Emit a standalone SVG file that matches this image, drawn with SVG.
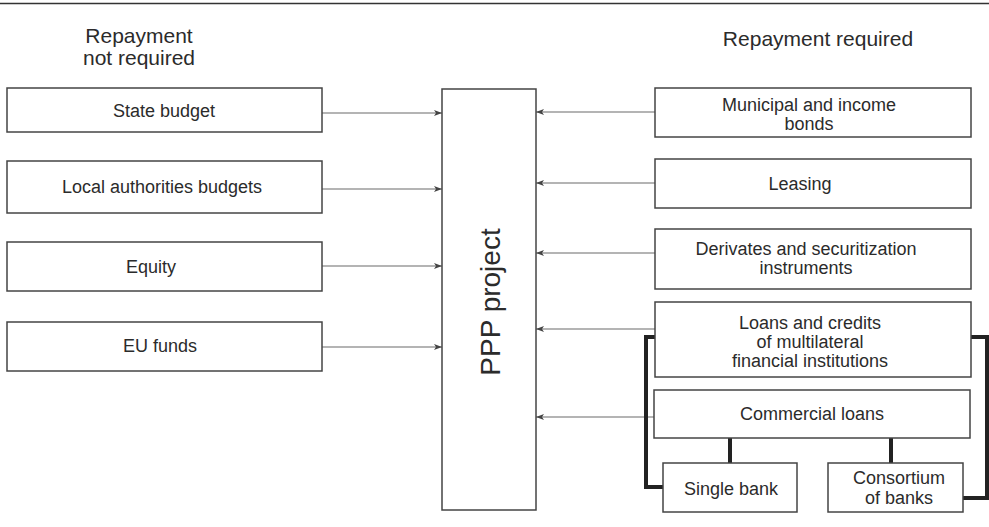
<svg xmlns="http://www.w3.org/2000/svg" width="989" height="527" viewBox="0 0 989 527">
<style>
  text { font-family: "Liberation Sans", Arial, sans-serif; fill: #2b2b2b; }
  .hdr { font-size: 21px; text-anchor: middle; }
  .lbl { font-size: 18px; text-anchor: middle; }
  .ppp { font-size: 28px; text-anchor: middle; }
  .box { fill: #ffffff; stroke: #444444; stroke-width: 1.5; }
  .arr { fill: none; stroke: #6a6a6a; stroke-width: 1.2; marker-end: url(#ah); }
  .thick { fill: none; stroke: #222222; stroke-width: 4; stroke-linejoin: miter; }
</style>
<defs>
  <marker id="ah" viewBox="0 0 8 6" refX="8" refY="3" markerWidth="8" markerHeight="6" markerUnits="userSpaceOnUse" orient="auto">
    <path d="M0,0 L8,3 L0,6 L2,3 z" fill="#444444"/>
  </marker>
</defs>
<rect width="989" height="527" fill="#ffffff"/>
<line x1="0" y1="3.5" x2="989" y2="3.5" stroke="#333333" stroke-width="1.6"/>
<g id="header-left">
  <text class="hdr" x="139" y="43">Repayment</text>
  <text class="hdr" x="139" y="65">not required</text>
</g>
<g id="header-right">
  <text class="hdr" x="818" y="46">Repayment required</text>
</g>
<g id="connectors">
  <line class="arr" x1="322" y1="113" x2="442" y2="113"/>
  <line class="arr" x1="322" y1="189" x2="442" y2="189"/>
  <line class="arr" x1="322" y1="266" x2="442" y2="266"/>
  <line class="arr" x1="322" y1="347" x2="442" y2="347"/>
  <line class="arr" x1="655" y1="112" x2="536" y2="112"/>
  <line class="arr" x1="655" y1="183" x2="536" y2="183"/>
  <line class="arr" x1="655" y1="253" x2="536" y2="253"/>
  <line class="arr" x1="655" y1="329" x2="536" y2="329"/>
  <line class="arr" x1="654" y1="417" x2="536" y2="417"/>
  <path class="thick" d="M655,337 H646 V487 H663"/>
  <path class="thick" d="M971,337 H987 V498 H963"/>
  <line class="thick" x1="730" y1="438" x2="730" y2="463"/>
  <line class="thick" x1="891" y1="438" x2="891" y2="463"/>
</g>
<g id="state-budget">
  <rect class="box" x="7" y="88" width="315" height="44"/>
  <text class="lbl" x="164" y="117">State budget</text>
</g>
<g id="local-budgets">
  <rect class="box" x="7" y="161" width="315" height="52"/>
  <text class="lbl" x="162" y="193">Local authorities budgets</text>
</g>
<g id="equity">
  <rect class="box" x="7" y="242" width="315" height="49"/>
  <text class="lbl" x="151" y="273">Equity</text>
</g>
<g id="eu-funds">
  <rect class="box" x="7" y="322" width="315" height="49"/>
  <text class="lbl" x="160" y="352">EU funds</text>
</g>
<g id="ppp-project">
  <rect class="box" x="442" y="89" width="94" height="421"/>
  <text class="ppp" transform="translate(500,302) rotate(-90)" x="0" y="0">PPP project</text>
</g>
<g id="municipal-bonds">
  <rect class="box" x="655" y="88" width="316" height="49"/>
  <text class="lbl" x="809" y="111">Municipal and income</text>
  <text class="lbl" x="809" y="130">bonds</text>
</g>
<g id="leasing">
  <rect class="box" x="655" y="159" width="316" height="49"/>
  <text class="lbl" x="800" y="190">Leasing</text>
</g>
<g id="derivates">
  <rect class="box" x="655" y="229" width="316" height="60"/>
  <text class="lbl" x="806" y="255">Derivates and securitization</text>
  <text class="lbl" x="806" y="274">instruments</text>
</g>
<g id="loans-multilateral">
  <rect class="box" x="655" y="302" width="316" height="75"/>
  <text class="lbl" x="810" y="329">Loans and credits</text>
  <text class="lbl" x="810" y="348">of multilateral</text>
  <text class="lbl" x="810" y="367">financial institutions</text>
</g>
<g id="commercial-loans">
  <rect class="box" x="654" y="390" width="316" height="48"/>
  <text class="lbl" x="812" y="420">Commercial loans</text>
</g>
<g id="single-bank">
  <rect class="box" x="663" y="463" width="134" height="49"/>
  <text class="lbl" x="731" y="495">Single bank</text>
</g>
<g id="consortium">
  <rect class="box" x="828" y="463" width="135" height="49"/>
  <text class="lbl" x="899" y="484">Consortium</text>
  <text class="lbl" x="899" y="504">of banks</text>
</g>
</svg>
